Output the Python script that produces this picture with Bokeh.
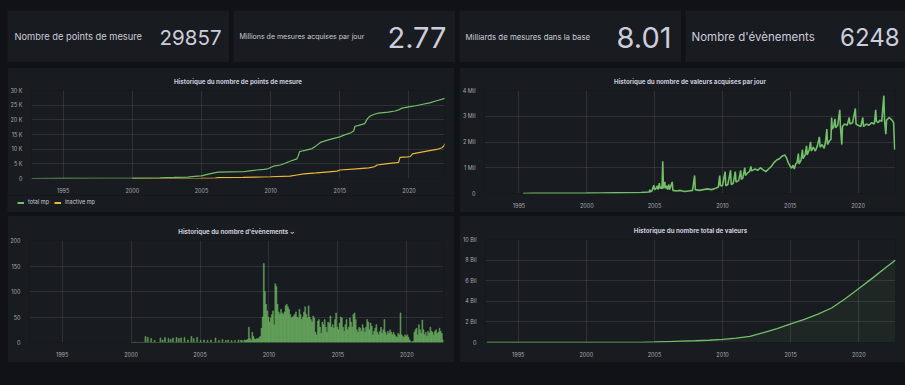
from bokeh.plotting import figure
from bokeh.layouts import row, column
from bokeh.models import (Range1d, FixedTicker, Legend, LegendItem, Spacer,
                          GlobalInlineStyleSheet)
from bokeh.core.properties import value
from bokeh.embed import file_html
from bokeh.resources import INLINE

PAGE_BG = "#111217"
PANEL_BG = "#181b1f"
TEXT = "#ccccdc"
TICK = "#a9a9b3"
GREEN = "#73bf69"
YELLOW = "#eab839"
FONT = "Inter"

# ---------------- data ----------------
stat_labels = ["Nombre de points de mesure", "Millions de mesures acquises par jour",
               "Milliards de mesures dans la base", "Nombre d'évènements"]
stat_values = ["29857", "2.77", "8.01", "6248"]

year_ticks = [1995, 2000, 2005, 2010, 2015, 2020]

# chart 1 : number of measurement points
series_names = ["total mp", "inactive mp"]
total_years = [1992.7, 1995, 1998, 2000, 2002, 2003, 2004, 2004.5, 2005.0, 2005.5, 2006.0,
               2006.2, 2007, 2008, 2008.5, 2009, 2009.5, 2009.8, 2010.2, 2010.7, 2011.0,
               2011.4, 2011.9, 2012.0, 2012.1, 2012.5, 2013.0, 2013.3, 2013.6, 2014.0,
               2014.5, 2015.0, 2015.3, 2015.8, 2016.0, 2016.1, 2016.3, 2016.8, 2017.0,
               2017.2, 2017.5, 2017.8, 2018.5, 2019.0, 2019.3, 2019.5, 2020.0, 2020.5,
               2021.0, 2021.5, 2022.0, 2022.6]
total_mp = [0, 30, 80, 150, 250, 350, 500, 700, 900, 1500, 2000, 2200, 2250, 2300, 2600,
            2900, 3100, 3300, 4200, 4600, 5100, 5900, 6700, 7800, 9200, 9600, 10200, 11200,
            12300, 12900, 13600, 14200, 14800, 15600, 16200, 17800, 18000, 18700, 20400,
            21300, 21900, 22300, 22600, 23000, 23500, 24000, 24400, 24800, 25300, 25800,
            26500, 27300]
inactive_years = [2000, 2003, 2005, 2006.0, 2006.2, 2008, 2010, 2011.4, 2011.9, 2012.4,
                  2013.3, 2014.0, 2014.8, 2015.0, 2016.2, 2017.1, 2017.5, 2017.7, 2018.3,
                  2019.1, 2019.25, 2019.35, 2019.9, 2020.1, 2020.25, 2021.0, 2022.0, 2022.4,
                  2022.55, 2022.6]
inactive_mp = [0, 0, 50, 100, 300, 400, 600, 800, 1200, 1600, 1900, 2200, 2500, 2900, 3300,
               3600, 4000, 4600, 5000, 5400, 5500, 7200, 7400, 7500, 8400, 9100, 9900, 10500,
               11300, 11900]

# chart 2 : values acquired per day (millions)
acq_years = [1995.3, 1996, 1998, 2000, 2001, 2002, 2003, 2004, 2004.3, 2004.6, 2004.65,
             2004.7, 2004.8, 2004.9, 2004.95, 2005.0, 2005.1, 2005.2, 2005.25, 2005.35,
             2005.4, 2005.5, 2005.55, 2005.6, 2005.65, 2005.75, 2005.8, 2005.9, 2005.95,
             2006.05, 2006.1, 2006.3, 2006.35, 2006.6, 2006.9, 2007.2, 2007.5, 2007.8,
             2007.95, 2008.0, 2008.3, 2008.6, 2008.9, 2009.2, 2009.5, 2009.7, 2009.8,
             2009.85, 2010.0, 2010.2, 2010.25, 2010.4, 2010.6, 2010.65, 2010.8, 2010.95,
             2011.0, 2011.2, 2011.35, 2011.4, 2011.5, 2011.65, 2011.7, 2011.85, 2012.0,
             2012.1, 2012.15, 2012.4, 2012.6, 2012.8, 2013.0, 2013.2, 2013.4, 2013.6,
             2013.8, 2014.0, 2014.2, 2014.4, 2014.6, 2014.75, 2014.85, 2015.0, 2015.1,
             2015.2, 2015.3, 2015.4, 2015.5, 2015.6, 2015.65, 2015.8, 2015.9, 2015.95,
             2016.1, 2016.2, 2016.25, 2016.4, 2016.5, 2016.55, 2016.7, 2016.85, 2017.0,
             2017.15, 2017.2, 2017.35, 2017.5, 2017.6, 2017.7, 2017.75, 2017.9, 2018.0,
             2018.05, 2018.1, 2018.2, 2018.3, 2018.35, 2018.5, 2018.65, 2018.7, 2018.8,
             2018.85, 2019.0, 2019.2, 2019.35, 2019.4, 2019.6, 2019.8, 2019.85, 2020.0,
             2020.2, 2020.35, 2020.4, 2020.6, 2020.8, 2021.0, 2021.2, 2021.3, 2021.35,
             2021.5, 2021.6, 2021.75, 2021.9, 2021.95, 2022.05, 2022.1, 2022.3, 2022.5,
             2022.62, 2022.7]
acq_values = [0.0, 0.005, 0.01, 0.015, 0.02, 0.025, 0.03, 0.04, 0.05, 0.06, 0.15,
              0.06, 0.1, 0.25, 0.32, 0.15, 0.2, 0.3, 0.15, 0.4,
              0.2, 0.25, 0.18, 1.25, 0.2, 0.45, 0.2, 0.3, 0.15,
              0.35, 0.15, 0.45, 0.12, 0.1, 0.12, 0.08, 0.1, 0.12,
              0.7, 0.15, 0.12, 0.15, 0.18, 0.15, 0.2, 0.25, 0.7,
              0.3, 0.3, 0.85, 0.3, 0.35, 0.9, 0.35, 0.4, 0.85,
              0.45, 0.5, 0.9, 0.55, 0.6, 1.0, 0.7, 0.8, 0.85,
              1.05, 0.88, 0.95, 0.9, 1.0, 0.92, 0.85, 0.95, 1.05,
              1.2, 1.3, 1.35, 1.45, 1.5, 1.35, 1.2, 1.05, 0.98,
              1.1, 0.95, 1.15, 1.2, 1.55, 1.15, 1.3, 1.7, 1.35,
              1.5, 1.85, 1.5, 1.7, 2.0, 1.65, 1.8, 1.65, 1.85,
              2.2, 1.8, 1.9, 1.75, 2.0, 2.5, 1.9, 2.05, 2.1,
              2.95, 2.5, 2.6, 2.9, 2.55, 2.65, 3.25, 2.6, 1.9,
              2.6, 2.7, 2.65, 2.95, 2.7, 2.75, 3.3, 2.7, 2.65,
              2.6, 2.95, 2.6, 2.7, 2.65, 2.75, 2.7, 3.25, 2.8,
              2.75, 2.85, 2.8, 3.8, 2.85, 2.3, 2.85, 2.95, 2.85,
              2.75, 1.7]

# chart 3 : monthly number of events, starting January 2000
event_start_year = 2000
event_counts = [
    0, 0, 0, 1, 0, 0, 0, 0, 0, 0, 0, 0,            # 2000
    12, 0, 10, 0, 0, 8, 0, 0, 4, 0, 0, 0,          # 2001
    0, 9, 0, 5, 0, 10, 0, 0, 8, 0, 6, 0,           # 2002
    9, 0, 0, 10, 0, 8, 0, 9, 0, 0, 10, 0,          # 2003
    0, 5, 0, 0, 12, 0, 8, 0, 0, 10, 0, 0,          # 2004
    4, 0, 0, 5, 0, 0, 4, 0, 0, 5, 0, 0,            # 2005
    0, 9, 0, 0, 4, 0, 0, 6, 0, 0, 4, 0,            # 2006
    5, 0, 0, 4, 0, 0, 4, 0, 0, 5, 0, 4,            # 2007
    4, 0, 5, 4, 5, 6, 30, 8, 4, 20, 12, 7,         # 2008
    6, 8, 7, 10, 12, 28, 50, 155, 100, 75, 62, 50, # 2009
    40, 48, 55, 62, 35, 115, 110, 75, 60, 55, 65, 58,  # 2010
    55, 60, 72, 75, 70, 65, 55, 48, 50, 52, 55, 60,    # 2011
    50, 48, 65, 55, 45, 50, 60, 70, 55, 48, 72, 50,    # 2012
    45, 40, 52, 48, 20, 15, 42, 45, 30, 18, 40, 35,    # 2013
    45, 30, 20, 40, 38, 52, 30, 35, 28, 45, 58, 30,    # 2014
    25, 38, 50, 48, 30, 22, 35, 45, 25, 30, 48, 40,    # 2015
    30, 55, 58, 45, 25, 20, 30, 28, 22, 35, 28, 20,    # 2016
    30, 45, 40, 25, 38, 32, 15, 22, 28, 35, 20, 15,    # 2017
    22, 30, 18, 25, 45, 20, 15, 22, 18, 25, 20, 15,    # 2018
    20, 15, 12, 10, 18, 15, 58, 15, 12, 10, 15, 12,    # 2019
    15, 10, 5, 2, 0, 3, 20, 25, 28, 15, 35, 25,        # 2020
    18, 44, 25, 15, 20, 12, 22, 18, 30, 22, 20, 15,    # 2021
    22, 25, 18, 20, 28, 22, 18, 5,                     # 2022
]

# chart 4 : total number of values (billions)
cum_years = [1992.7, 2000, 2004, 2005, 2006, 2007, 2008, 2009, 2010, 2011, 2012, 2013,
             2014, 2015, 2016, 2017, 2018, 2019, 2020, 2021, 2022, 2022.7]
cum_values = [0, 0.005, 0.02, 0.05, 0.09, 0.13, 0.17, 0.22, 0.3, 0.42, 0.6, 0.95, 1.35,
              1.8, 2.25, 2.75, 3.35, 4.25, 5.25, 6.25, 7.3, 8.01]

# ---------------- helpers ----------------
def bare(w, h, xr, yr):
    p = figure(width=w, height=h, x_range=Range1d(*xr), y_range=Range1d(*yr),
               toolbar_location=None, output_backend="svg", min_border=0,
               x_axis_location=None, y_axis_location=None,
               background_fill_color=PANEL_BG, border_fill_color=PANEL_BG,
               outline_line_color=None)
    p.grid.visible = False
    return p


def stat_panel(w, h, label, val, label_size, val_size, lpad, rpad):
    p = bare(w, h, (0, w), (0, h))
    p.text(x=[lpad], y=[h / 2], text=[label], text_font=value(FONT),
           text_font_size=label_size, text_color=TEXT, text_baseline="middle",
           text_align="left")
    p.text(x=[w - rpad], y=[h / 2 - 0.5], text=[val], text_font=value(FONT),
           text_font_size=val_size, text_color=TEXT, text_baseline="middle",
           text_align="right")
    return p


def chart(w, h, title, xr, yr, yticks, ylabels, bl, br, bt, bb):
    p = figure(width=w, height=h, x_range=Range1d(*xr), y_range=Range1d(*yr),
               toolbar_location=None, output_backend="svg",
               min_border_left=bl, min_border_right=br, min_border_top=bt,
               min_border_bottom=bb, background_fill_color=PANEL_BG,
               border_fill_color=PANEL_BG, outline_line_color=None)
    p.title.text = title
    p.title.align = "center"
    p.title.text_font = FONT
    p.title.text_font_size = "6.2px"
    p.title.text_font_style = "bold"
    p.title.text_color = TEXT
    p.title.standoff = 12
    for ax in (p.xaxis[0], p.yaxis[0]):
        ax.axis_line_color = None
        ax.major_tick_line_color = None
        ax.minor_tick_line_color = None
        ax.major_label_text_font = FONT
        ax.major_label_text_font_size = "5.5px"
        ax.major_label_text_color = TICK
        ax.major_label_standoff = 3
    p.xaxis.ticker = FixedTicker(ticks=year_ticks)
    p.xaxis.major_label_overrides = {t: str(t) for t in year_ticks}
    p.yaxis.ticker = FixedTicker(ticks=yticks)
    p.yaxis.major_label_overrides = dict(zip(yticks, ylabels))
    p.grid.grid_line_color = TEXT
    p.grid.grid_line_alpha = 0.12
    p.grid.grid_line_width = 1
    return p


# ---------------- stat row ----------------
s1 = stat_panel(222, 52, stat_labels[0], stat_values[0], "9.3px", "20.5px", 7, 8)
s2 = stat_panel(222, 52, stat_labels[1], stat_values[1], "7px", "29px", 6, 9)
s3 = stat_panel(222, 52, stat_labels[2], stat_values[2], "7.8px", "29px", 6, 10)
s4 = stat_panel(220, 52, stat_labels[3], stat_values[3], "11.5px", "24px", 6, 6)

# ---------------- chart 1 (plot + legend strip) ----------------
c1 = chart(447, 128, "Historique du nombre de points de mesure", (1992.71, 2022.57),
           (0, 30000), [0, 5000, 10000, 15000, 20000, 25000, 30000],
           ["0", "5 K", "10 K", "15 K", "20 K", "25 K", "30 K"], 19, 10, 23, 12)
c1.line(total_years, total_mp, line_color=GREEN, line_width=1.2)
c1.line(inactive_years, inactive_mp, line_color=YELLOW, line_width=1.2)

c1_leg = bare(447, 17, (1992.71, 2022.57), (0, 30000))
lg_tot = c1_leg.line(total_years, total_mp, line_color=GREEN, line_width=2, visible=False)
lg_ina = c1_leg.line(inactive_years, inactive_mp, line_color=YELLOW, line_width=2,
                     visible=False)
leg = Legend(items=[LegendItem(label=series_names[0], renderers=[lg_tot]),
                    LegendItem(label=series_names[1], renderers=[lg_ina])],
             orientation="horizontal", location=(10, 7),
             label_text_font=FONT, label_text_font_size="5.5px",
             label_text_color=TEXT, glyph_width=7, glyph_height=5,
             label_standoff=4, spacing=5, padding=0, margin=0,
             background_fill_alpha=0, border_line_alpha=0, label_height=5,
             click_policy="none")
c1_leg.add_layout(leg)

# ---------------- chart 2 ----------------
c2 = chart(446, 145, "Historique du nombre de valeurs acquises par jour",
           (1992.46, 2022.76), (0, 4), [0, 1, 2, 3, 4],
           ["0", "1 Mil", "2 Mil", "3 Mil", "4 Mil"], 19, 10, 23, 19)
c2.line(acq_years, acq_values, line_color=GREEN, line_width=1.6)

# ---------------- chart 3 ----------------
ev_x = [event_start_year + (i + 0.5) / 12 for i in range(len(event_counts))]
c3 = chart(447, 147, "Historique du nombre d'évènements ⌄", (1992.63, 2022.66),
           (0, 200), [0, 50, 100, 150, 200], ["0", "50", "100", "150", "200"],
           18, 11, 25, 20)
c3.vbar(x=ev_x, top=event_counts, width=0.07, bottom=0, fill_color=GREEN,
        fill_alpha=0.6, line_color=GREEN, line_alpha=0.9, line_width=0.5)

# ---------------- chart 4 ----------------
c4 = chart(446, 147, "Historique du nombre total de valeurs", (1992.6, 2022.69),
           (0, 10), [0, 2, 4, 6, 8, 10], ["0", "2 Bil", "4 Bil", "6 Bil", "8 Bil", "10 Bil"],
           22, 10, 24, 20)
c4.varea(x=cum_years, y1=[0] * len(cum_years), y2=cum_values, fill_color=GREEN,
         fill_alpha=0.08)
c4.line(cum_years, cum_values, line_color=GREEN, line_width=1.3)

# ---------------- layout ----------------
sheet = GlobalInlineStyleSheet(css="body { background-color: #111217; }")
layout = column(
    Spacer(width=905, height=10),
    row(Spacer(width=3, height=52), s1, s2, s3, s4, spacing=4),
    Spacer(width=905, height=5),
    row(Spacer(width=2, height=145), column(c1, column(c1_leg)), column(c2), spacing=5),
    Spacer(width=905, height=3),
    row(Spacer(width=2, height=147), column(c3), column(c4), spacing=5),
    Spacer(width=905, height=22),
    styles={"background-color": PAGE_BG},
    stylesheets=[sheet],
)

open("out.html", "w").write(file_html(layout, INLINE))
